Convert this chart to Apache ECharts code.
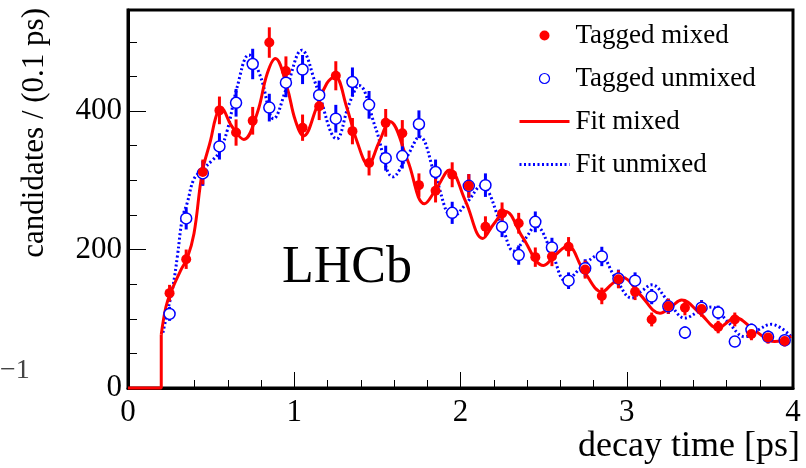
<!DOCTYPE html>
<html>
<head>
    <meta charset="UTF-8">
    <title></title>
    <script type="text/javascript" src="https://cdn.jsdelivr.net/npm/echarts@6/dist/echarts.min.js"></script>
    <style>
        html, body { margin: 0; padding: 0; background: #fff; }
    </style>
</head>
<body>
<div id="main" style="width: 806px; height: 468px;"></div>
<script>
    // bin centres (0.1 ps bins)
    var binT = [0.25, 0.35, 0.45, 0.55, 0.65, 0.75, 0.85, 0.95, 1.05, 1.15,
        1.25, 1.35, 1.45, 1.55, 1.65, 1.75, 1.85, 1.95, 2.05, 2.15,
        2.25, 2.35, 2.45, 2.55, 2.65, 2.75, 2.85, 2.95, 3.05, 3.15,
        3.25, 3.35, 3.45, 3.55, 3.65, 3.75, 3.85, 3.95];
    var mixedCounts = [137, 186, 312, 401, 369, 386, 499, 458, 376, 407,
        451, 371, 325, 383, 368, 293, 285, 308, 292, 233,
        252, 238, 189, 190, 204, 171, 133, 157, 139, 99,
        118, 116, 114, 88, 99, 78, 73, 68];
    var mixedErr = [12, 14, 18, 20, 19, 20, 22, 21, 19, 20,
        21, 19, 18, 20, 19, 17, 17, 18, 17, 15,
        16, 15, 14, 14, 14, 13, 12, 13, 12, 10,
        11, 11, 11, 9, 10, 9, 9, 8];
    var unmixedCounts = [107, 245, 310, 349, 412, 468, 405, 441, 460, 423,
        389, 442, 409, 332, 335, 381, 312, 253, 292, 293,
        233, 192, 240, 203, 155, 173, 190, 158, 155, 132,
        118, 80, 116, 109, 67, 84, 74, 69];
    var unmixedErr = [10, 16, 18, 19, 20, 22, 20, 21, 21, 21,
        20, 21, 20, 18, 18, 20, 18, 16, 17, 17,
        15, 14, 15, 14, 12, 13, 14, 13, 12, 11,
        11, 9, 11, 10, 8, 9, 9, 8];

    // fit curves [t, value]
    var fitStep = [[0, 0], [0.2, 0], [0.2, 77]];
    var fitMixed = [[0.2, 77], [0.228, 117], [0.257, 138], [0.317, 170], [0.357, 188],
        [0.397, 223], [0.447, 312], [0.497, 358], [0.527, 390], [0.557, 405],
        [0.627, 377], [0.697, 359], [0.777, 397], [0.837, 454], [0.886, 476],
        [0.956, 435], [1.006, 387], [1.056, 364], [1.136, 406], [1.196, 440],
        [1.245, 450], [1.315, 406], [1.375, 358], [1.445, 323], [1.51, 355],
        [1.575, 385], [1.68, 330], [1.784, 266], [1.86, 290], [1.934, 315],
        [2.03, 270], [2.134, 216], [2.2, 237], [2.27, 255], [2.373, 218],
        [2.50, 177], [2.57, 192], [2.645, 205], [2.74, 170], [2.852, 139],
        [2.91, 150], [2.97, 160], [3.08, 135], [3.2, 108], [3.27, 118],
        [3.33, 127], [3.44, 108], [3.55, 86], [3.60, 94], [3.65, 102],
        [3.77, 83], [3.89, 67], [3.99, 75]];
    var fitUnmixed = [[0.21, 80], [0.24, 113], [0.27, 146], [0.297, 190], [0.327, 245],
        [0.357, 268], [0.397, 302], [0.447, 315], [0.507, 329], [0.547, 340],
        [0.597, 372], [0.657, 435], [0.727, 481], [0.797, 450], [0.876, 389],
        [0.956, 435], [1.045, 488], [1.135, 435], [1.256, 360], [1.33, 410],
        [1.39, 437], [1.49, 375], [1.595, 305], [1.68, 335], [1.754, 363],
        [1.85, 305], [1.954, 247], [2.04, 268], [2.125, 292], [2.25, 233],
        [2.32, 198], [2.39, 216], [2.453, 234], [2.55, 195], [2.633, 155],
        [2.73, 175], [2.835, 192], [2.93, 160], [3.03, 130], [3.09, 140],
        [3.15, 149], [3.25, 125], [3.35, 101], [3.43, 110], [3.51, 117],
        [3.61, 95], [3.71, 74], [3.79, 84], [3.87, 92], [3.99, 74]];

    var serif = 'Liberation Serif';
    var red = '#ff0000';
    var blue = '#0000ff';

    var mixedPts = [], unmixedPts = [];
    for (var i = 0; i < binT.length; i++) {
        mixedPts.push([binT[i], mixedCounts[i], mixedErr[i]]);
        unmixedPts.push([binT[i], unmixedCounts[i], unmixedErr[i]]);
    }

    function errBars(color) {
        return function (params, api) {
            var x = api.value(0), y = api.value(1), e = api.value(2);
            var p1 = api.coord([x, y - e]);
            var p2 = api.coord([x, y + e]);
            return {
                type: 'line',
                shape: {x1: p1[0], y1: p1[1], x2: p2[0], y2: p2[1]},
                style: {stroke: color, lineWidth: 3}
            };
        };
    }

    var myChart = echarts.init(document.getElementById('main'));
    myChart.setOption({
        animation: false,
        backgroundColor: '#fff',
        grid: {
            left: 128, right: 13, top: 10, bottom: 80,
            show: true, borderColor: '#000', borderWidth: 3
        },
        legend: {
            orient: 'vertical',
            left: 513, top: 17,
            itemWidth: 50, itemHeight: 10, itemGap: 16,
            textStyle: {fontFamily: serif, fontSize: 27, color: '#000', padding: [0, 0, 0, 1]},
            data: [
                {name: 'Tagged mixed', icon: 'circle'},
                {name: 'Tagged unmixed', icon: 'circle', itemStyle: {borderWidth: 1.2}},
                {name: 'Fit mixed', itemStyle: {opacity: 0}, lineStyle: {width: 3}},
                {name: 'Fit unmixed', itemStyle: {opacity: 0}, lineStyle: {width: 3}}
            ]
        },
        xAxis: {
            type: 'value', min: 0, max: 4, interval: 1,
            axisLine: {lineStyle: {color: '#000', width: 3}},
            axisTick: {inside: true, length: 16, lineStyle: {color: '#000', width: 1}},
            minorTick: {show: true, splitNumber: 5, length: 8, lineStyle: {color: '#000', width: 1}},
            splitLine: {show: false},
            axisLabel: {fontFamily: serif, fontSize: 31, color: '#000', margin: 9}
        },
        yAxis: [{
            type: 'value', min: 0, max: 546, interval: 200,
            axisLine: {show: true, lineStyle: {color: '#000', width: 3}},
            axisTick: {show: true, inside: true, length: 18, lineStyle: {color: '#000', width: 1}},
            splitLine: {show: false},
            axisLabel: {fontFamily: serif, fontSize: 31, color: '#000', margin: 6, showMaxLabel: false}
        }, {
            type: 'value', min: 0, max: 546, interval: 50, position: 'left',
            axisLine: {show: false},
            axisTick: {show: true, inside: true, length: 9, lineStyle: {color: '#000', width: 1}},
            splitLine: {show: false},
            axisLabel: {show: false}
        }],
        graphic: [
            {
                type: 'text', x: 35, y: 8, rotation: Math.PI / 2,
                style: {text: 'candidates / (0.1 ps)', font: '31px "Liberation Serif"', fill: '#000',
                    align: 'right', verticalAlign: 'middle'}
            },
            {
                type: 'text', x: 800, y: 447,
                style: {text: 'decay time [ps]', font: '36px "Liberation Serif"', fill: '#000',
                    align: 'right', verticalAlign: 'middle'}
            },
            {
                type: 'text', x: 282, y: 268,
                style: {text: 'LHCb', font: '52px "Liberation Serif"', fill: '#000',
                    align: 'left', verticalAlign: 'middle'}
            },
            {
                type: 'text', x: 0, y: 371,
                style: {text: '\u22121', font: '28px "Liberation Serif"', fill: '#444',
                    align: 'left', verticalAlign: 'middle'}
            }
        ],
        series: [
            {
                name: 'Fit unmixed', type: 'line', smooth: 0.4, showSymbol: false, symbol: 'none',
                data: fitUnmixed, z: 2,
                itemStyle: {color: blue},
                lineStyle: {color: blue, width: 3, type: [2, 2.5]}
            },
            {
                name: 'step', type: 'line', showSymbol: false, symbol: 'none',
                data: fitStep, z: 3, clip: false,
                lineStyle: {color: red, width: 3}
            },
            {
                name: 'Fit mixed', type: 'line', smooth: 0.4, showSymbol: false, symbol: 'none',
                data: fitMixed, z: 3,
                itemStyle: {color: red},
                lineStyle: {color: red, width: 3}
            },
            {
                name: 'unmixed err', type: 'custom', data: unmixedPts, z: 4,
                encode: {x: 0, y: 1}, renderItem: errBars(blue)
            },
            {
                name: 'mixed err', type: 'custom', data: mixedPts, z: 4,
                encode: {x: 0, y: 1}, renderItem: errBars(red)
            },
            {
                name: 'Tagged unmixed', type: 'scatter', data: unmixedPts, z: 5,
                symbol: 'circle', symbolSize: 11,
                itemStyle: {color: '#fff', borderColor: blue, borderWidth: 1.5, opacity: 1}
            },
            {
                name: 'Tagged mixed', type: 'scatter', data: mixedPts, z: 6,
                symbol: 'circle', symbolSize: 10,
                itemStyle: {color: red, opacity: 1}
            }
        ]
    });
</script>
</body>
</html>
